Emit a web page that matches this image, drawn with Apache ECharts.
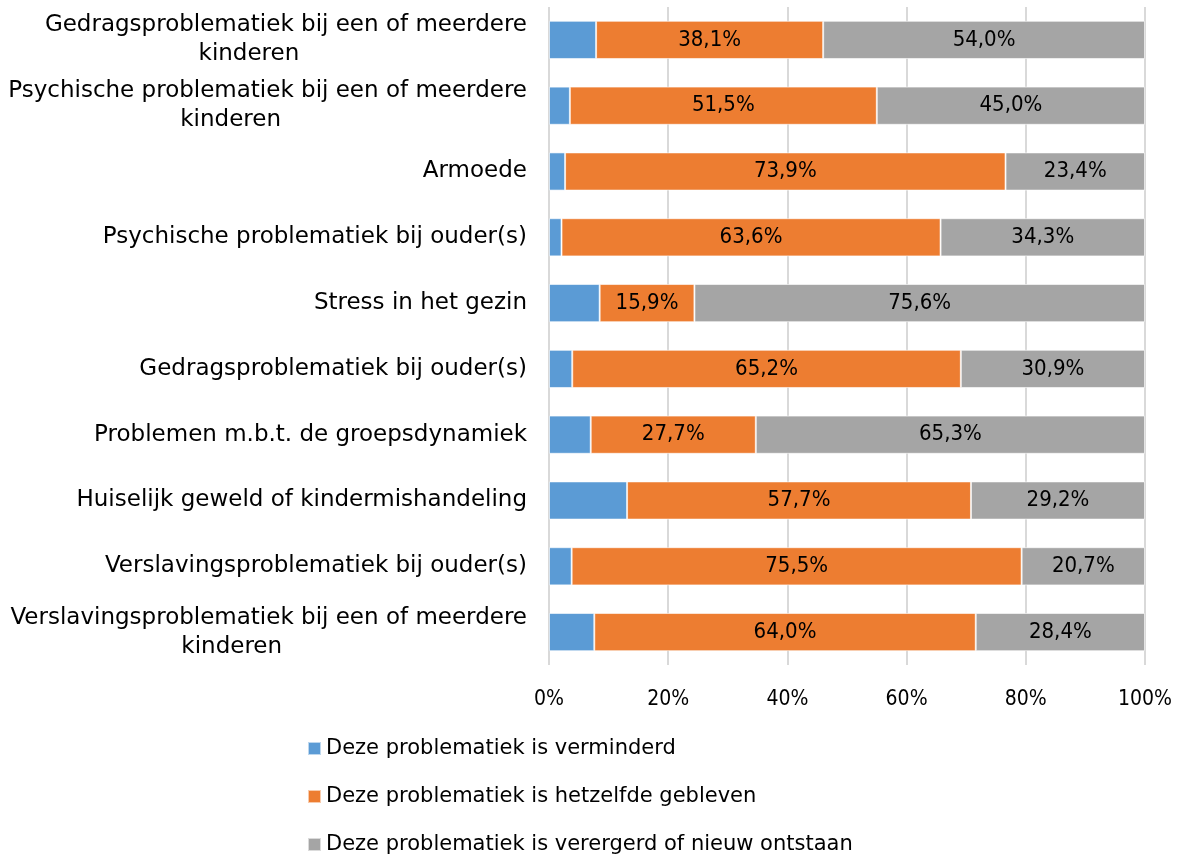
<!DOCTYPE html>
<html>
<head>
<meta charset="utf-8">
<script src="https://cdn.jsdelivr.net/npm/echarts@6/dist/echarts.min.js"></script>
<style>
  html, body { margin: 0; padding: 0; background: #fff; }
  #chart { width: 1181px; height: 855px; }
</style>
</head>
<body>
<div id="chart"></div>
<script>
const categories = [
  'Gedragsproblematiek bij een of meerdere\nkinderen',
  'Psychische problematiek bij een of meerdere\nkinderen',
  'Armoede',
  'Psychische problematiek bij ouder(s)',
  'Stress in het gezin',
  'Gedragsproblematiek bij ouder(s)',
  'Problemen m.b.t. de groepsdynamiek',
  'Huiselijk geweld of kindermishandeling',
  'Verslavingsproblematiek bij ouder(s)',
  'Verslavingsproblematiek bij een of meerdere\nkinderen'
];
const seriesNames = [
  'Deze problematiek is verminderd',
  'Deze problematiek is hetzelfde gebleven',
  'Deze problematiek is verergerd of nieuw ontstaan'
];
const verminderd = [7.9, 3.5, 2.7, 2.1, 8.5, 3.9, 7.0, 13.1, 3.8, 7.6];
const hetzelfde = [38.1, 51.5, 73.9, 63.6, 15.9, 65.2, 27.7, 57.7, 75.5, 64.0];
const verergerd = [54.0, 45.0, 23.4, 34.3, 75.6, 30.9, 65.3, 29.2, 20.7, 28.4];
const xTicks = [0, 20, 40, 60, 80, 100];

const narrow = '"DejaVu Sans Condensed", "DejaVu Sans", sans-serif';
const wide = '"DejaVu Sans", sans-serif';
const colors = ['#5B9BD5', '#ED7D31', '#A5A5A5'];

const chart = echarts.init(document.getElementById('chart'));

function pctLabel(p) {
  return p.value.toFixed(1).replace('.', ',') + '%';
}

const dataSets = [verminderd, hetzelfde, verergerd];

chart.setOption({
  animation: false,
  color: colors,
  textStyle: { fontFamily: narrow },
  grid: { left: 549, right: 36, top: 7, bottom: 190, containLabel: false },
  legend: {
    orient: 'vertical',
    left: 307,
    top: 738,
    padding: 0,
    itemWidth: 13,
    itemHeight: 13,
    itemGap: 27,
    icon: 'rect',
    textStyle: { fontSize: 21, color: '#000', fontFamily: wide, lineHeight: 20 },
    data: seriesNames
  },
  xAxis: {
    type: 'value',
    min: xTicks[0],
    max: xTicks[xTicks.length - 1],
    interval: 20,
    axisLine: { show: false },
    axisTick: { show: false },
    splitLine: { show: true, lineStyle: { color: '#d9d9d9', width: 2 } },
    axisLabel: {
      formatter: v => v + '%',
      fontSize: 21,
      color: '#000',
      margin: 24,
      fontFamily: narrow
    }
  },
  yAxis: {
    type: 'category',
    inverse: true,
    data: categories,
    axisLine: { show: false },
    axisTick: { show: false },
    axisLabel: {
      margin: 22,
      color: '#000',
      fontSize: 23,
      fontFamily: wide,
      formatter: function (v) {
        const parts = v.split('\n');
        if (parts.length === 1) return '{a|' + v + '}';
        return '{a|' + parts[0] + '}\n{b|' + parts[1] + '}';
      },
      rich: {
        a: { fontSize: 23, lineHeight: 29, color: '#000', fontFamily: wide, align: 'right' },
        b: { fontSize: 23, lineHeight: 29, color: '#000', fontFamily: wide, align: 'center', padding: [0, 74, 0, 0] }
      }
    }
  },
  series: seriesNames.map((name, i) => ({
    name: name,
    type: 'bar',
    stack: 'total',
    barWidth: '58%',
    data: dataSets[i],
    itemStyle: { borderColor: 'rgba(255,255,255,0.6)', borderWidth: 1 },
    label: {
      show: i > 0,
      position: 'inside',
      color: '#000',
      fontSize: 22,
      fontFamily: narrow,
      formatter: pctLabel
    }
  }))
});
</script>
</body>
</html>
